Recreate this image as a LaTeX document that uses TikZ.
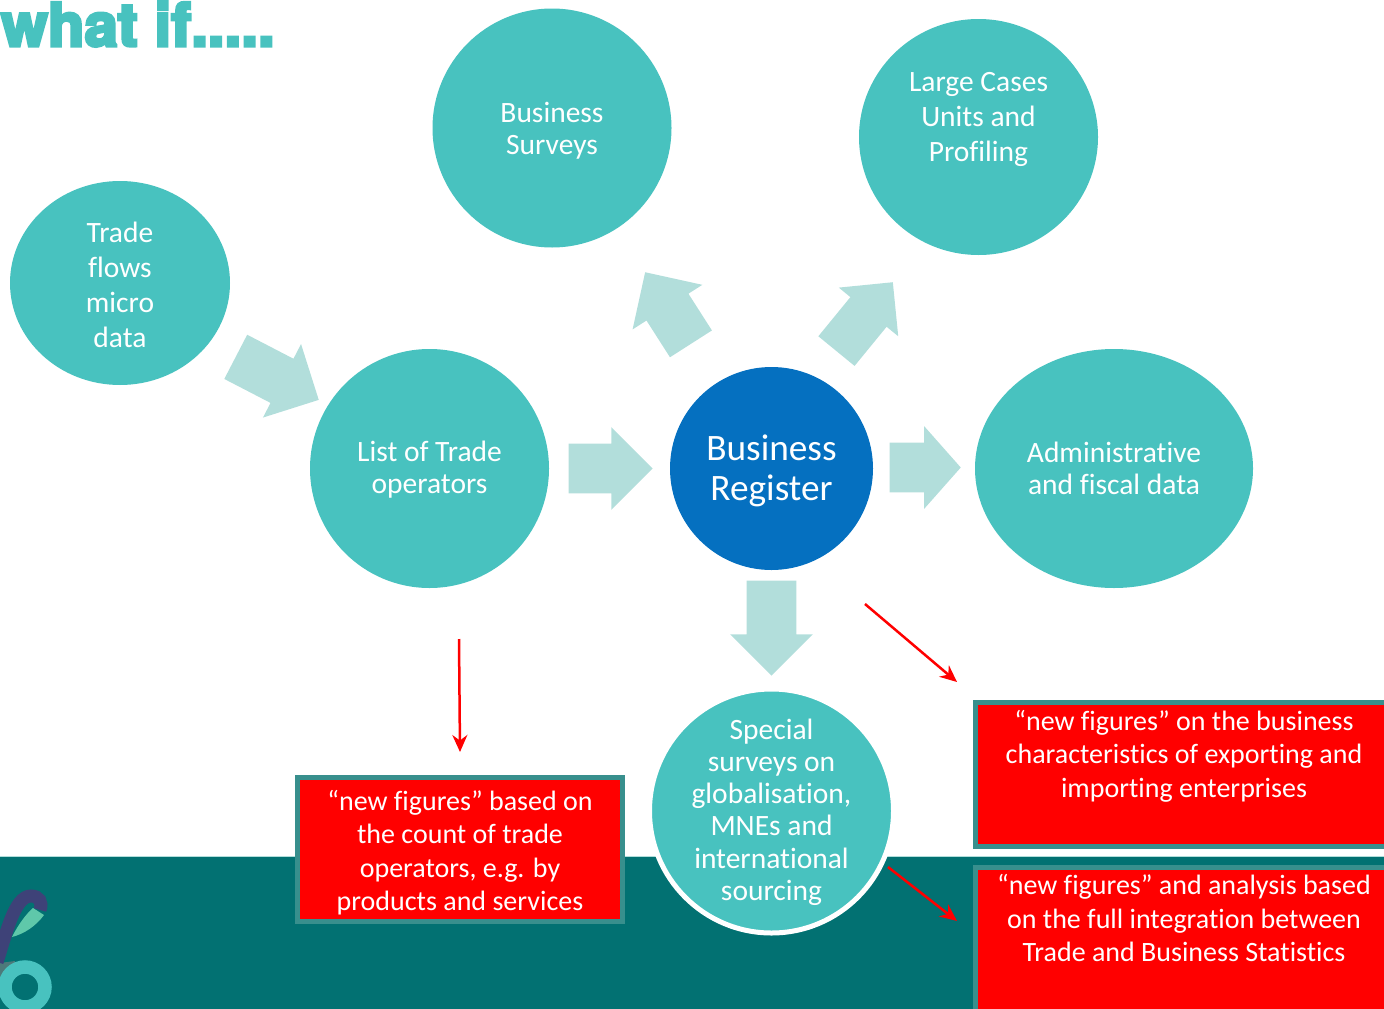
\documentclass[tikz,border=0pt]{standalone}
\usepackage{fontspec}
\setmainfont[Ligatures=NoCommon]{Carlito}
\newfontfamily\titlefont{TeX Gyre Heros}
\usetikzlibrary{calc, positioning, shapes.geometric, shapes.arrows, arrows.meta}
\definecolor{tealcircle}{RGB}{72, 194, 191}
\definecolor{bluecircle}{RGB}{5, 112, 192}
\definecolor{palearrow}{RGB}{178, 222, 219}
\definecolor{tealband}{RGB}{2, 113, 114}
\definecolor{boxedge}{RGB}{56, 143, 141}
\definecolor{logopurple}{RGB}{62, 66, 120}
\definecolor{logoleaf}{RGB}{95, 200, 170}
\newcommand{\nudge}[1]{\rule{0pt}{#1}}
\tikzset{
    sourcecircle/.style={ellipse, fill=tealcircle, text=white, align=center, inner sep=0pt,
        font=\fontsize{29.5}{35}\selectfont},
    blockarrow/.style={single arrow, anchor=tip, fill=palearrow, inner xsep=0pt, inner ysep=24.7pt,
        single arrow head extend=16.5pt},
    redbox/.style={rectangle, fill=red, draw=boxedge, line width=5pt, text=white, align=center,
        inner sep=0pt, font=\fontsize{28}{33.5}\selectfont},
    newarrow/.style={-{Stealth[length=17pt, width=15pt]}, red, line width=2.5pt}
}
\begin{document}
\begin{tikzpicture}[x=1pt, y=-1pt]
    \useasboundingbox (0, 0) rectangle (1384, 1009);

    % Bottom band
    \fill[tealband] (0, 856.5) rectangle (1384, 1009);
    \draw[palearrow, line width=1pt] (0, 856.5) -- (1384, 856.5);

    % Logo in the corner
    \fill[gray!60!tealband] (0, 963) -- (15, 961) -- (12, 975) -- (0, 982) -- cycle;
    \draw[logopurple, line width=13pt] (-3, 962) .. controls (6, 935) and (14, 896) .. (31, 896)
        .. controls (39, 896) and (43, 902) .. (40, 910);
    \fill[logoleaf] (33, 908) -- (44, 915) .. controls (36, 926) and (24, 934) .. (12, 937)
        .. controls (18, 925) and (26, 914) .. (33, 908) -- cycle;
    \draw[tealcircle, line width=13.5pt] (25, 987) circle (20);

    % Title
    \node[anchor=base west, inner sep=0pt, text=tealcircle, font=\fontsize{60}{60}\selectfont\titlefont\bfseries] (whatIf)
        at (1, 46) {\special{pdf:code 2 Tr 3 w}what if.....\special{pdf:code 0 Tr}};

    % Circles
    \node[sourcecircle, minimum width=239pt, minimum height=239pt] (surveys) at (552, 128)
        {\nudge{25pt}Business\\[-3pt]Surveys};
    \node[sourcecircle, minimum width=239pt, minimum height=236pt] (largeCases) at (978.5, 137)
        {Large Cases\\Units and\\Profiling\\[6pt]~};
    \node[sourcecircle, minimum width=220pt, minimum height=204pt] (tradeFlows) at (120, 283)
        {\nudge{24pt}Trade\\flows\\micro\\data};
    \node[sourcecircle, minimum width=239pt, minimum height=239pt] (listTrade) at (429.5, 468.5)
        {\nudge{23.5pt}List of Trade\\[-3pt]operators};
    \node[sourcecircle, minimum width=203pt, minimum height=203pt, fill=bluecircle,
        font=\fontsize{37.3}{40}\selectfont] (register) at (771.5, 468.5) {\nudge{30pt}Business\\Register};
    \node[sourcecircle, minimum width=278pt, minimum height=239pt] (adminData) at (1114, 468.5)
        {Administrative\\[-3pt]and fiscal data};
    \node[sourcecircle, minimum width=244pt, minimum height=244pt, draw=white, line width=5pt]
        (special) at (771.5, 811) {};
    \node[text=white, align=center, inner sep=0pt, font=\fontsize{29.5}{32.2}\selectfont] (specialText)
        at (771.5, 812) {Special\\surveys on\\globalisation,\\MNEs and\\international\\sourcing};

    % Block arrows
    \node[blockarrow, minimum height=93.5pt, rotate=-27.4] (arrowTrade) at (319, 400) {};
    \node[blockarrow, minimum height=84pt] (arrowList) at (653, 468.5) {};
    \node[blockarrow, minimum height=85pt, rotate=122.6] (arrowSurveys) at (645, 272) {};
    \node[blockarrow, minimum height=89pt, inner ysep=23.2pt, single arrow head extend=15pt,
        rotate=50.7] (arrowLarge) at (893, 282) {};
    \node[blockarrow, minimum height=71pt, single arrow tip angle=97] (arrowAdmin) at (961, 467.5) {};
    \node[blockarrow, minimum height=95pt, rotate=-90] (arrowSpecial) at (771.5, 676) {};

    % Red boxes
    \node[redbox, minimum width=325pt, minimum height=144pt] (boxCount) at (460, 849.5)
        {\nudge{26pt}“new figures” based on\\the count of trade\\operators, e.g. by\\products and services};
    \node[redbox, minimum width=417pt, minimum height=144pt] (boxBusiness) at (1184, 774.5)
        {“new figures” on the business\\characteristics of exporting and\\importing enterprises\\[8pt]~};
    \node[redbox, minimum width=417pt, minimum height=170pt] (boxIntegration) at (1184, 952)
        {“new figures” and analysis based\\on the full integration between\\Trade and Business Statistics\\[34pt]~};

    % Red arrows
    \coordinate (startCount) at (459, 639);
    \coordinate (endCount) at (460, 752);
    \coordinate (startBusiness) at (865, 604);
    \coordinate (endBusiness) at (957, 682);
    \coordinate (startIntegration) at (888, 867);
    \coordinate (endIntegration) at (957, 921);
    \draw[newarrow] (startCount) -- (endCount);
    \draw[newarrow] (startBusiness) -- (endBusiness);
    \draw[newarrow] (startIntegration) -- (endIntegration);
\end{tikzpicture}
\end{document}
